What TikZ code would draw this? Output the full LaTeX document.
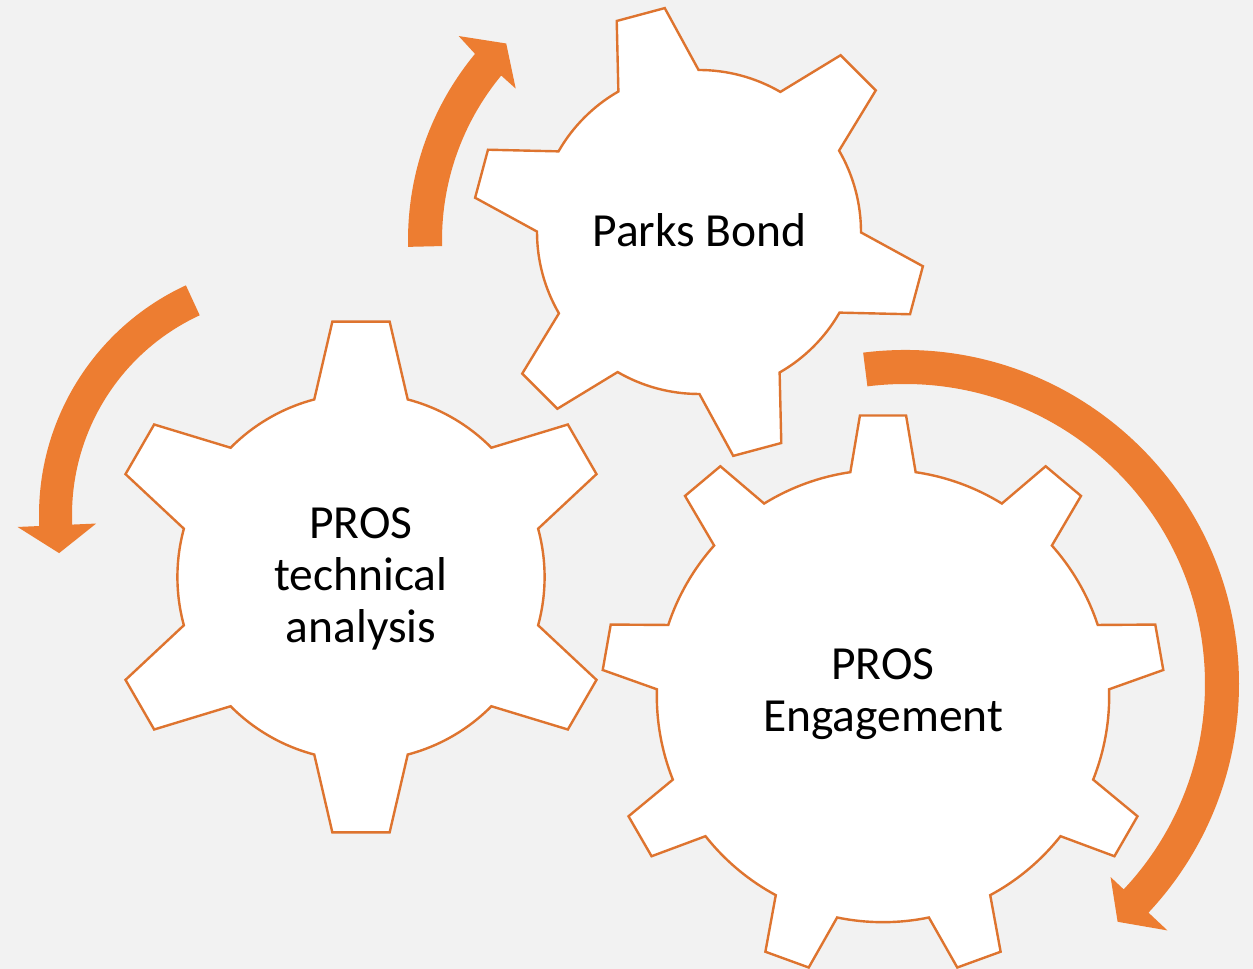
\documentclass[tikz,border=0pt]{standalone}
\usepackage{fontspec}
\setmainfont{Carlito}
\definecolor{bgc}{HTML}{F2F2F2}
\definecolor{orng}{HTML}{ED7D31}
\definecolor{gearline}{HTML}{DE742F}
\tikzset{
  gearstyle/.style={draw=gearline, fill=white, line width=2.4pt, line join=miter},
  arrowfill/.style={fill=orng, draw=none},
  gearlabel/.style={font=\fontsize{47.5}{52}\selectfont, align=center, anchor=base, inner sep=0pt, text=black}
}
% #1 cx, #2 cy, #3 teeth, #4 first tooth angle, #5 inner r, #6 outer r, #7 base half angle, #8 tip half angle
\newcommand\drawmygear[8]{%
  \begin{scope}[shift={(#1,#2)}]
    \path[gearstyle] ({#4-#7}:#5)
    \foreach \k [evaluate=\k as \a using #4+(\k-1)*360/#3] in {1,...,#3}{
      -- ({\a-#8}:#6) -- ({\a+#8}:#6) -- ({\a+#7}:#5)
      arc[start angle={\a+#7}, end angle={\a+360/#3-#7}, radius=#5pt]
    } -- cycle;
  \end{scope}}
\begin{document}
\begin{tikzpicture}[x=1pt,y=1pt]
  \useasboundingbox (0,0) rectangle (1253,969);
  \fill[bgc] (0,0) rectangle (1253,969);

  % gears
  \drawmygear{699}{737}{6}{105}{162}{226.5}{14.85}{6.3}
  \drawmygear{361}{392}{6}{90}{183.6}{257}{14.75}{6.4}
  \drawmygear{883}{273}{9}{90}{226.2}{281.5}{8.3}{4.7}

  % arrows
  \begin{scope}[shift={(700,729)}]
    \path[arrowfill] (181.35:292) arc[start angle=181.35, end angle=140.4, radius=292pt]
      -- (139.8:316) -- (134.6:276) -- (140.6:238.5) -- (140.4:258)
      arc[start angle=140.4, end angle=181.35, radius=258pt] -- cycle;
  \end{scope}
  \begin{scope}[shift={(292,454)}]
    \path[arrowfill] (114.8:253) arc[start angle=114.8, end angle=182.5, radius=253pt]
      -- (182.5:274.7) -- (189.3:236) -- (182.5:196) -- (182.5:220)
      arc[start angle=182.5, end angle=114.8, radius=220pt] -- cycle;
  \end{scope}
  \begin{scope}[shift={(905,285)}]
    \path[arrowfill] (97.2:334) arc[start angle=97.2, end angle=-43.2, radius=334pt]
      -- (-43.2:360) -- (-48.2:319) -- (-43.2:282) -- (-43.2:300)
      arc[start angle=-43.2, end angle=97.2, radius=300pt] -- cycle;
  \end{scope}

  % labels (base anchor = baseline of the last line)
  \node[gearlabel] (t1) at (699.5,722.3) {Parks Bond};
  \node[gearlabel] (t2) at (361,326) {PROS\\technical\\analysis};
  \node[gearlabel] (t3) at (883,237.5) {PROS\\Engagement};
\end{tikzpicture}
\end{document}
